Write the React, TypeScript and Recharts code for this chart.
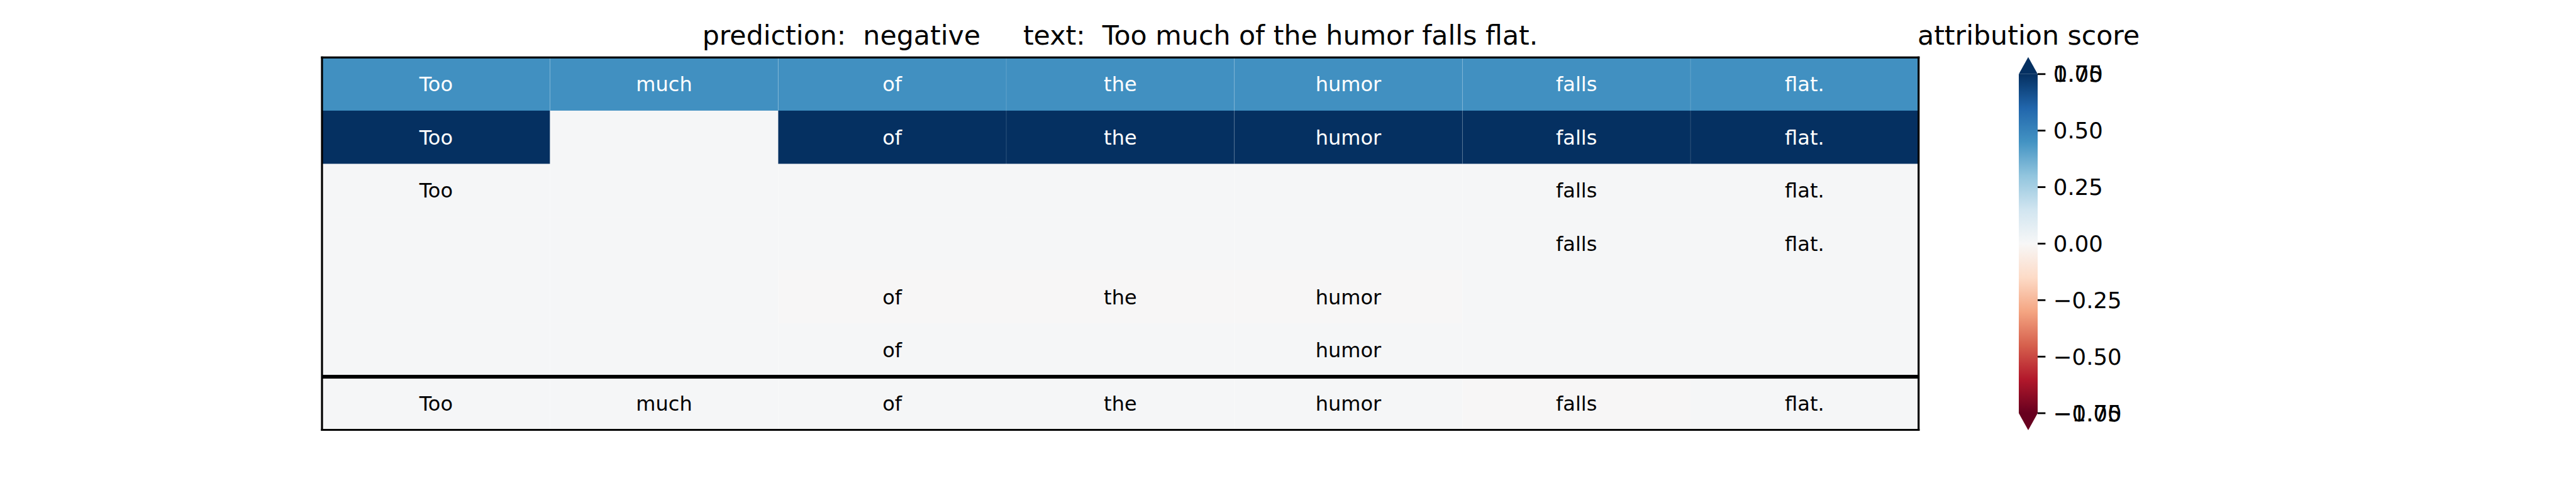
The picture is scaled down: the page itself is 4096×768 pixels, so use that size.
import React from "react"
import { BarChart, Bar, XAxis, YAxis, ReferenceLine, LabelList } from "recharts"

// tokens of the explained sentence
const tokens = ["Too", "much", "of", "the", "humor", "falls", "flat."]

// words shown in each row ("" = hidden)
const rowWords = [
  ["Too", "much", "of", "the", "humor", "falls", "flat."],
  ["Too", "", "of", "the", "humor", "falls", "flat."],
  ["Too", "", "", "", "", "falls", "flat."],
  ["", "", "", "", "", "falls", "flat."],
  ["", "", "of", "the", "humor", "", ""],
  ["", "", "of", "", "humor", "", ""],
  ["Too", "much", "of", "the", "humor", "falls", "flat."],
]

// attribution score per cell
const rowScores = [
  [0.46, 0.46, 0.46, 0.46, 0.46, 0.46, 0.46],
  [0.9, 0.008, 0.9, 0.9, 0.9, 0.9, 0.9],
  [0.008, 0.008, 0.008, 0.008, 0.008, 0.008, 0.008],
  [0.008, 0.008, 0.008, 0.008, 0.008, 0.008, 0.008],
  [0.008, 0.008, -0.004, -0.004, -0.004, 0.008, 0.008],
  [0.008, 0.008, 0.008, 0.008, 0.008, 0.008, 0.008],
  [0.008, 0.008, 0.008, 0.008, 0.008, -0.004, 0.008],
]

const titleText = "prediction:  negative     text:  Too much of the humor falls flat."
const colorbarTitle = "attribution score"

const cbRange: [number, number] = [-0.75, 0.75]
const cbTicks = [-0.75, -0.5, -0.25, 0, 0.25, 0.5, 0.75]
const cbTickLabels = ["\u22120.75", "\u22120.50", "\u22120.25", "0.00", "0.25", "0.50", "0.75"]
const cbOverlapLabels = ["\u22121.00", "", "", "", "", "", "1.00"]

const RDBU = [
  "#67001f", "#b2182b", "#d6604d", "#f4a582", "#fddbc7", "#f7f7f7",
  "#d1e5f0", "#92c5de", "#4393c3", "#2166ac", "#053061",
]

const hex = (c: string) => [1, 3, 5].map((i) => parseInt(c.slice(i, i + 2), 16))

function rdbu(v: number) {
  const t = Math.min(1, Math.max(0, (v - cbRange[0]) / (cbRange[1] - cbRange[0])))
  const p = t * 10
  const i = Math.min(9, Math.floor(p))
  const f = p - i
  const a = hex(RDBU[i])
  const b = hex(RDBU[i + 1])
  const m = a.map((x, k) => Math.round(x + (b[k] - x) * f))
  return `rgb(${m[0]},${m[1]},${m[2]})`
}

const heatData = rowWords.map((words, i) => {
  const row: Record<string, any> = { row: `r${i}`, ri: i }
  tokens.forEach((_, j) => {
    row[`c${j}`] = 1
    row[`w${j}`] = words[j]
  })
  return row
})

const cbData = [{ name: "score", range: cbRange }]

const FONT = "'DejaVu Sans', sans-serif"

function CellShape(props: any) {
  const { x, y, width, height, payload, col } = props
  const fill = rdbu(rowScores[payload.ri][col])
  return (
    <g>
      <rect x={x} y={y} width={width} height={height} fill={fill} />
      {col > 0 && (
        <line x1={x} x2={x} y1={y} y2={y + height} stroke="rgba(255,255,255,0.16)" strokeWidth={1} />
      )}
    </g>
  )
}

function renderWord(props: any, col: number) {
  const { x, y, width, height, value, index } = props
  if (!value) return null
  const s = index != null ? rowScores[index][col] : 0
  return (
    <text
      x={x + width / 2}
      y={y + height / 2}
      dy="0.355em"
      textAnchor="middle"
      fontSize={32}
      fill={Math.abs(s) > 0.35 ? "#fff" : "#000"}
    >
      {value}
    </text>
  )
}

function ColorbarShape(props: any) {
  const { x, y, width, height } = props
  const ext = height * 0.05
  return (
    <g>
      <rect x={x} y={y} width={width} height={height} fill="url(#rdbuGrad)" />
      <polygon points={`${x},${y} ${x + width / 2},${y - ext} ${x + width},${y}`} fill={RDBU[10]} />
      <polygon
        points={`${x},${y + height} ${x + width / 2},${y + height + ext} ${x + width},${y + height}`}
        fill={RDBU[0]}
      />
    </g>
  )
}

function CbTick(props: any) {
  const { x, y, payload } = props
  const i = cbTicks.indexOf(payload.value)
  return (
    <g>
      <text x={x} y={y} dy="0.355em" textAnchor="start" fontSize={35.5} fill="#000">
        {cbTickLabels[i]}
      </text>
      {cbOverlapLabels[i] && (
        <text x={x} y={y} dy="0.355em" textAnchor="start" fontSize={35.5} fill="#000">
          {cbOverlapLabels[i]}
        </text>
      )}
    </g>
  )
}

export default function App() {
  const edge = { stroke: "#000", strokeWidth: 3.2, strokeLinecap: "square" as const }
  return (
    <div
      style={{
        position: "absolute",
        left: 0,
        top: 0,
        width: 4096,
        height: 768,
        background: "#fff",
        fontFamily: FONT,
        overflow: "hidden",
      }}
    >
      <svg width={4096} height={130} style={{ position: "absolute", left: 0, top: 0 }}>
        <text x={1781} y={70.8} textAnchor="middle" fontSize={42.7} style={{ whiteSpace: "pre" }}>
          {titleText}
        </text>
        <text x={3225.6} y={70.8} textAnchor="middle" fontSize={42.7}>
          {colorbarTitle}
        </text>
      </svg>

      <div style={{ position: "absolute", left: 0, top: 0 }}>
        <BarChart
          width={3100}
          height={768}
          data={heatData}
          layout="vertical"
          barCategoryGap={0}
          margin={{ top: 91.3, left: 512, right: 49.3, bottom: 84.5 }}
        >
          <XAxis type="number" domain={[0, 7]} hide />
          <YAxis type="category" dataKey="row" hide />
          {tokens.map((tok, j) => (
            <Bar
              key={tok}
              dataKey={`c${j}`}
              stackId="cells"
              isAnimationActive={false}
              shape={(p: any) => <CellShape {...p} col={j} />}
            >
              <LabelList dataKey={`w${j}`} content={(p: any) => renderWord(p, j)} />
            </Bar>
          ))}
          <ReferenceLine y="r6" position="start" stroke="#000" strokeWidth={6} />
          <ReferenceLine y="r0" position="start" {...edge} />
          <ReferenceLine y="r6" position="end" {...edge} />
          <ReferenceLine x={0} {...edge} />
          <ReferenceLine x={7} {...edge} />
        </BarChart>
      </div>

      <div style={{ position: "absolute", left: 3150, top: 0 }}>
        <BarChart
          width={300}
          height={768}
          data={cbData}
          barCategoryGap={0}
          margin={{ top: 117.8, left: 60, right: 0, bottom: 111 }}
        >
          <defs>
            <linearGradient id="rdbuGrad" x1="0" y1="1" x2="0" y2="0">
              {RDBU.map((c, i) => (
                <stop key={c} offset={i / 10} stopColor={c} />
              ))}
            </linearGradient>
          </defs>
          <XAxis dataKey="name" hide />
          <YAxis
            orientation="right"
            type="number"
            domain={cbRange}
            ticks={cbTicks}
            interval={0}
            width={210}
            tickSize={12.4}
            tickMargin={12.4}
            axisLine={false}
            tickLine={{ stroke: "#000", strokeWidth: 2.8 }}
            tick={<CbTick />}
          />
          <Bar dataKey="range" isAnimationActive={false} shape={(p: any) => <ColorbarShape {...p} />} />
        </BarChart>
      </div>
    </div>
  )
}
